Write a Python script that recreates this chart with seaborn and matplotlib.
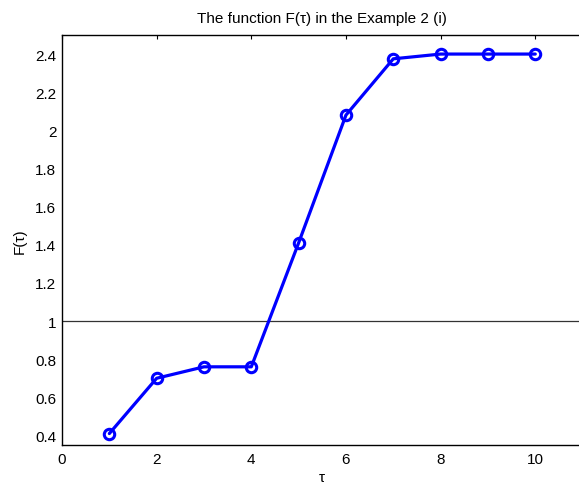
import matplotlib
matplotlib.use("Agg")
import matplotlib.pyplot as plt
import seaborn as sns
import pandas as pd

tau = [1, 2, 3, 4, 5, 6, 7, 8, 9, 10]
F = [0.41, 0.70, 0.76, 0.76, 1.41, 2.08, 2.375, 2.40, 2.40, 2.40]
xticks = [0, 2, 4, 6, 8, 10]
yticks = [0.4, 0.6, 0.8, 1.0, 1.2, 1.4, 1.6, 1.8, 2.0, 2.2, 2.4]
ytick_labels = ["0.4", "0.6", "0.8", "1", "1.2", "1.4", "1.6", "1.8", "2", "2.2", "2.4"]

sns.set_style("white")
plt.rcParams["font.family"] = ["Liberation Sans", "DejaVu Sans"]
plt.rcParams["text.color"] = "black"
plt.rcParams["axes.labelcolor"] = "black"

df = pd.DataFrame({"tau": tau, "F": F})

fig = plt.figure(figsize=(5.79, 4.85), dpi=100)
ax = fig.add_axes([0.1071, 0.0804, 0.8991, 0.8454])

ax.axhline(1.0, color="#333333", linewidth=0.9, zorder=1)
sns.lineplot(data=df, x="tau", y="F", ax=ax, color="blue", linewidth=2.3,
             marker="o", markersize=7.5, markerfacecolor="none",
             markeredgecolor="blue", markeredgewidth=2.2, zorder=3)

ax.set_xlim(0, 11)
ax.set_ylim(0.35, 2.5)
ax.set_xticks(xticks)
ax.set_xticklabels([str(t) for t in xticks])
ax.set_yticks(yticks)
ax.set_yticklabels(ytick_labels)
ax.tick_params(direction="in", top=True, right=True, length=3, width=0.8,
               labelsize=11, colors="black")
ax.tick_params(axis="y", pad=4)
ax.tick_params(axis="x", pad=5)
for s in ax.spines.values():
    s.set_color("black")
    s.set_linewidth(1.0)

ax.set_xlabel("τ", fontsize=11, labelpad=3, color="black")
ax.set_ylabel("F(τ)", fontsize=11, labelpad=6, color="black")
ax.set_title("The function F(τ) in the Example 2 (i)", fontsize=11, pad=9, color="black")

fig.savefig("out.png", dpi=100)
